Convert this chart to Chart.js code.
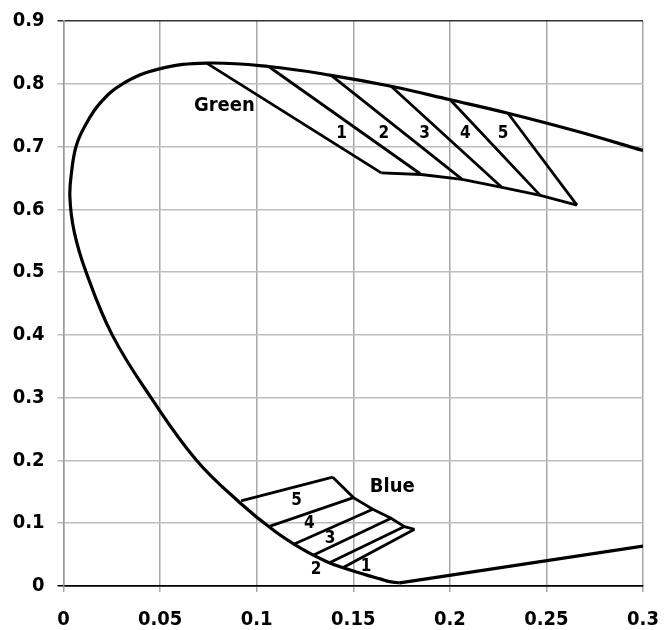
<!DOCTYPE html>
<html>
<head>
<meta charset="utf-8">
<script src="https://cdn.jsdelivr.net/npm/chart.js@4/dist/chart.umd.min.js"></script>
<style>
  html, body { margin: 0; padding: 0; background: #fff; }
  #wrap { width: 667px; height: 630px; }
</style>
</head>
<body>
<div id="wrap"><canvas id="chart"></canvas></div>
<script>
// spectral locus (x, y chromaticity)
const locusX = [0.1741, 0.1689, 0.1644, 0.1566, 0.1440, 0.1355, 0.1241, 0.1096, 0.0913, 0.0687, 0.0453, 0.0252, 0.0117, 0.0055, 0.0033, 0.0042, 0.0065, 0.0108, 0.0186, 0.0306, 0.0496, 0.0741, 0.1062, 0.1386, 0.1696, 0.2002, 0.2301, 0.2658, 0.3000];
const locusY = [0.0050, 0.0069, 0.0109, 0.0177, 0.0297, 0.0399, 0.0578, 0.0868, 0.1327, 0.2007, 0.3000, 0.4000, 0.5000, 0.5650, 0.6200, 0.6600, 0.7000, 0.7310, 0.7680, 0.8000, 0.8238, 0.8330, 0.8275, 0.8135, 0.7960, 0.7745, 0.7530, 0.7243, 0.6937];

// purple line
const purpleX = [0.1741, 0.3];
const purpleY = [0.0050, 0.0635];

// green region: points on the locus and on the lower edge
const greenTopX = [0.0741, 0.1062, 0.1386, 0.1696, 0.2002, 0.2301];
const greenTopY = [0.8330, 0.8275, 0.8135, 0.7960, 0.7745, 0.7530];
const greenBotX = [0.1645, 0.1852, 0.2064, 0.2270, 0.2468, 0.2658];
const greenBotY = [0.6581, 0.6555, 0.6476, 0.6349, 0.6222, 0.6068];

// blue region: points on the locus and on the right edge
const blueLeftX = [0.0919, 0.1066, 0.1195, 0.1295, 0.1377, 0.1446];
const blueLeftY = [0.1356, 0.0950, 0.0670, 0.0494, 0.0372, 0.0292];
const blueRightX = [0.1394, 0.1501, 0.1601, 0.1696, 0.1765, 0.1817];
const blueRightY = [0.1733, 0.1408, 0.1223, 0.1080, 0.0946, 0.0904];

// text labels
const labelText = ['Green', '1', '2', '3', '4', '5', 'Blue', '5', '4', '3', '2', '1'];
const labelX = [0.0833, 0.1440, 0.1658, 0.1869, 0.2080, 0.2275, 0.1702, 0.1207, 0.1273, 0.1380, 0.1308, 0.1567];
const labelY = [0.7656, 0.7206, 0.7206, 0.7206, 0.7206, 0.7206, 0.1574, 0.1360, 0.0989, 0.0761, 0.0266, 0.0308];
const labelBig = [true, false, false, false, false, false, true, false, false, false, false, false];

const FONT = '"Liberation Sans Narrow", "DejaVu Sans", sans-serif';
const WEIGHT = 'condensed bold';

const pts = (xs, ys) => xs.map((x, i) => ({ x: x, y: ys[i] }));

const line = (data, width) => ({
    data: data,
    showLine: true,
    borderColor: '#000',
    borderWidth: width,
    pointRadius: 0,
    fill: false
});

const datasets = [];
datasets.push(Object.assign(line(pts(locusX, locusY), 3.2), { tension: 0.4 }));
datasets.push(line(pts(purpleX, purpleY), 3.2));
datasets.push(line(pts(greenBotX, greenBotY), 2.8));
for (let i = 0; i < greenTopX.length; i++)
    datasets.push(line([{ x: greenTopX[i], y: greenTopY[i] }, { x: greenBotX[i], y: greenBotY[i] }], 2.8));
datasets.push(line(pts(blueRightX, blueRightY), 2.8));
for (let i = 0; i < blueLeftX.length; i++)
    datasets.push(line([{ x: blueLeftX[i], y: blueLeftY[i] }, { x: blueRightX[i], y: blueRightY[i] }], 2.8));

const labelsPlugin = {
    id: 'labels',
    afterDatasetsDraw(chart) {
        const ctx = chart.ctx;
        const xs = chart.scales.x, ys = chart.scales.y;
        ctx.save();
        ctx.fillStyle = '#000';
        ctx.textAlign = 'center';
        ctx.textBaseline = 'middle';
        labelText.forEach((t, i) => {
            ctx.font = WEIGHT + ' ' + (labelBig[i] ? 20 : 17) + 'px ' + FONT;
            ctx.fillText(t, xs.getPixelForValue(labelX[i]), ys.getPixelForValue(labelY[i]));
        });
        ctx.restore();
    }
};

new Chart(document.getElementById('chart'), {
    type: 'scatter',
    data: { datasets: datasets },
    options: {
        responsive: true,
        maintainAspectRatio: false,
        animation: false,
        layout: { padding: { top: 21, right: 24, left: 0, bottom: 0 } },
        plugins: {
            legend: { display: false },
            tooltip: { enabled: false }
        },
        scales: {
            x: {
                min: 0,
                max: 0.3,
                afterFit: s => { s.height = 44; s.paddingLeft = 0; s.paddingRight = 0; },
                ticks: {
                    stepSize: 0.05,
                    padding: 16,
                    maxRotation: 0,
                    color: '#000',
                    font: { family: FONT, size: 20, weight: WEIGHT },
                    callback: v => String(+v.toFixed(2))
                },
                grid: {
                    color: '#a8a8a8',
                    lineWidth: 1.5,
                    tickLength: 6
                },
                border: { color: '#000', width: 1.5 }
            },
            y: {
                min: 0,
                max: 0.9,
                afterFit: s => { s.width = 63.5; s.paddingTop = 0; s.paddingBottom = 0; },
                ticks: {
                    stepSize: 0.1,
                    padding: 13,
                    color: '#000',
                    font: { family: FONT, size: 20, weight: WEIGHT },
                    callback: v => String(+v.toFixed(1))
                },
                grid: {
                    color: c => c.tick && Math.abs(c.tick.value - 0.9) < 1e-6 ? '#333' : (c.tick && c.tick.value === 0 ? '#000' : '#bdbdbd'),
                    lineWidth: 1.5,
                    tickLength: 6
                },
                border: { color: '#999', width: 1.5 }
            }
        }
    },
    plugins: [labelsPlugin]
});
</script>
</body>
</html>
